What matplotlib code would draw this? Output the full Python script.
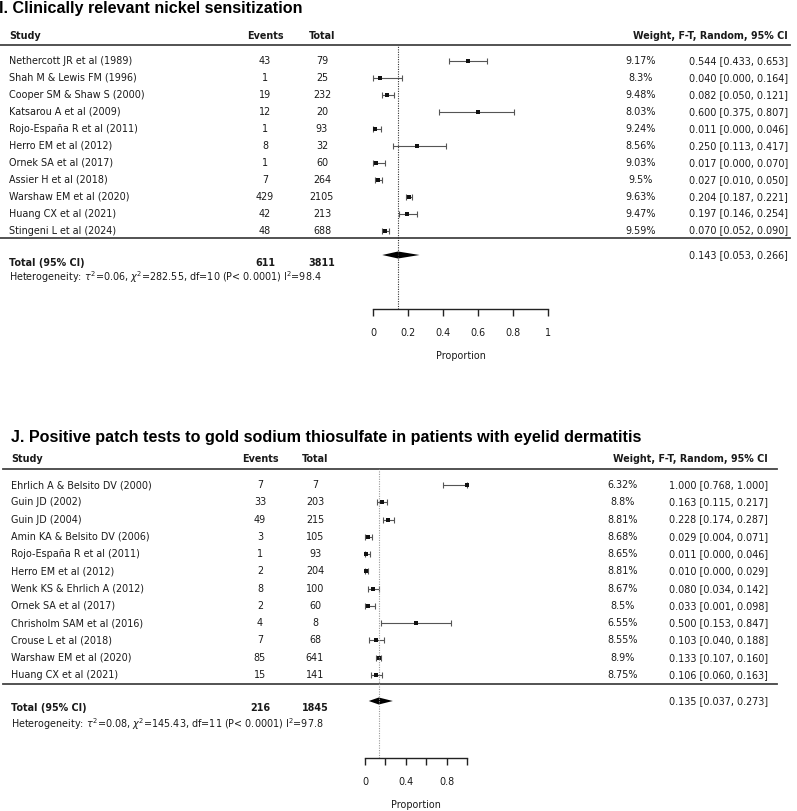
import matplotlib
matplotlib.use("Agg")
import matplotlib.pyplot as plt
from matplotlib.transforms import blended_transform_factory

# ---- panel I data ----
i_studies = ["Nethercott JR et al (1989)", "Shah M & Lewis FM (1996)", "Cooper SM & Shaw S (2000)",
             "Katsarou A et al (2009)", "Rojo-España R et al (2011)", "Herro EM et al (2012)",
             "Ornek SA et al (2017)", "Assier H et al (2018)", "Warshaw EM et al (2020)",
             "Huang CX et al (2021)", "Stingeni L et al (2024)"]
i_events = [43, 1, 19, 12, 1, 8, 1, 7, 429, 42, 48]
i_totals = [79, 25, 232, 20, 93, 32, 60, 264, 2105, 213, 688]
i_weights = ["9.17%", "8.3%", "9.48%", "8.03%", "9.24%", "8.56%", "9.03%", "9.5%", "9.63%", "9.47%", "9.59%"]
i_est = [0.544, 0.040, 0.082, 0.600, 0.011, 0.250, 0.017, 0.027, 0.204, 0.197, 0.070]
i_lo = [0.433, 0.000, 0.050, 0.375, 0.000, 0.113, 0.000, 0.010, 0.187, 0.146, 0.052]
i_hi = [0.653, 0.164, 0.121, 0.807, 0.046, 0.417, 0.070, 0.050, 0.221, 0.254, 0.090]
i_summary = (0.143, 0.053, 0.266)
i_total_events, i_total_n = 611, 3811
i_het = r"Heterogeneity: $\tau^2$=0.06, $\chi^2$=282.55, df=10 (P< 0.0001) I$^2$=98.4"

# ---- panel J data ----
j_studies = ["Ehrlich A & Belsito DV (2000)", "Guin JD (2002)", "Guin JD (2004)",
             "Amin KA & Belsito DV (2006)", "Rojo-España R et al (2011)", "Herro EM et al (2012)",
             "Wenk KS & Ehrlich A (2012)", "Ornek SA et al (2017)", "Chrisholm SAM et al (2016)",
             "Crouse L et al (2018)", "Warshaw EM et al (2020)", "Huang CX et al (2021)"]
j_events = [7, 33, 49, 3, 1, 2, 8, 2, 4, 7, 85, 15]
j_totals = [7, 203, 215, 105, 93, 204, 100, 60, 8, 68, 641, 141]
j_weights = ["6.32%", "8.8%", "8.81%", "8.68%", "8.65%", "8.81%", "8.67%", "8.5%", "6.55%", "8.55%", "8.9%", "8.75%"]
j_est = [1.000, 0.163, 0.228, 0.029, 0.011, 0.010, 0.080, 0.033, 0.500, 0.103, 0.133, 0.106]
j_lo = [0.768, 0.115, 0.174, 0.004, 0.000, 0.000, 0.034, 0.001, 0.153, 0.040, 0.107, 0.060]
j_hi = [1.000, 0.217, 0.287, 0.071, 0.046, 0.029, 0.142, 0.098, 0.847, 0.188, 0.160, 0.163]
j_summary = (0.135, 0.037, 0.273)
j_total_events, j_total_n = 216, 1845
j_het = r"Heterogeneity: $\tau^2$=0.08, $\chi^2$=145.43, df=11 (P< 0.0001) I$^2$=97.8"

W, H = 797, 811
fig = plt.figure(figsize=(W / 100, H / 100), dpi=100)
fig.patch.set_facecolor("white")

TXT = "#1a1a1a"
FS = 6.9


def forest(title, studies, events, totals, weights, est, lo, hi, summary, tot_ev, tot_n, het, g):
    # axes covers proportion 0..1, from header line down to the x axis line
    n = len(studies)
    step = g["step"]
    top_px, bot_px = g["line_top"], g["axis_y"]
    ax = fig.add_axes([g["x0"] / W, 1 - bot_px / H, (g["x1"] - g["x0"]) / W, (bot_px - top_px) / H])
    y_top = (g["row0"] - top_px) / step
    y_bot = -(bot_px - g["row0"]) / step
    ax.set_xlim(0, 1)
    ax.set_ylim(y_bot, y_top)

    def ry(px):
        return -(px - g["row0"]) / step

    rows = [-k for k in range(n)]
    tr = blended_transform_factory(fig.transFigure, ax.transData)
    fx = lambda px: px / W

    # title + header
    fig.text(fx(g["title_x"]), 1 - g["title_y"] / H, title, fontsize=11.65, fontweight="bold",
             family="Liberation Sans", va="center", ha="left", color="black")
    hy = ry(g["head_y"])
    ax.text(fx(g["study_x"]), hy, "Study", transform=tr, fontsize=FS, fontweight="bold", va="center", color=TXT)
    ax.text(fx(g["ev_x"]), hy, "Events", transform=tr, fontsize=FS, fontweight="bold", va="center", ha="center", color=TXT)
    ax.text(fx(g["tot_x"]), hy, "Total", transform=tr, fontsize=FS, fontweight="bold", va="center", ha="center", color=TXT)
    ax.text(fx(g["ci_x"]), hy, "Weight, F-T, Random, 95% CI", transform=tr, fontsize=FS, fontweight="bold",
            va="center", ha="right", color=TXT)

    # horizontal rules
    ax.plot([fx(g["rule_l"]), fx(g["rule_r"])], [y_top, y_top], transform=tr, color="#444444", lw=1.3, clip_on=False)
    by = ry(g["bottom_rule"])
    ax.plot([fx(g["rule_l"]), fx(g["rule_r"])], [by, by], transform=tr, color="#444444", lw=1.3, clip_on=False)

    # study rows
    for k in range(n):
        y = rows[k]
        ax.text(fx(g["study_x"]), y, studies[k], transform=tr, fontsize=FS, va="center", color=TXT)
        ax.text(fx(g["ev_x"]), y, str(events[k]), transform=tr, fontsize=FS, va="center", ha="center", color=TXT)
        ax.text(fx(g["tot_x"]), y, str(totals[k]), transform=tr, fontsize=FS, va="center", ha="center", color=TXT)
        ax.text(fx(g["w_x"]), y, weights[k], transform=tr, fontsize=FS, va="center", ha="center", color=TXT)
        ax.text(fx(g["ci_x"]), y, f"{est[k]:.3f} [{lo[k]:.3f}, {hi[k]:.3f}]", transform=tr,
                fontsize=FS, va="center", ha="right", color=TXT)
        ax.errorbar(est[k], y, xerr=[[est[k] - lo[k]], [hi[k] - est[k]]], fmt="none",
                    ecolor="#555555", elinewidth=0.8, capsize=2.4, capthick=0.8, clip_on=False)
        ax.plot(est[k], y, "s", ms=2.6, mew=0, color="#111111", clip_on=False)

    # pooled estimate
    m, l, h = summary
    dy = ry(g["diamond_y"])
    half = g["diamond_h"] / step / 2
    ax.fill([l, m, h, m], [dy, dy + half, dy, dy - half], color="black", lw=0)
    ax.text(fx(g["ci_x"]), dy, f"{m:.3f} [{l:.3f}, {h:.3f}]", transform=tr, fontsize=FS, va="center",
            ha="right", color=TXT)
    ty = ry(g["total_y"])
    ax.text(fx(g["study_x"]), ty, "Total (95% CI)", transform=tr, fontsize=FS, fontweight="bold", va="center", color=TXT)
    ax.text(fx(g["ev_x"]), ty, str(tot_ev), transform=tr, fontsize=FS, fontweight="bold", va="center", ha="center", color=TXT)
    ax.text(fx(g["tot_x"]), ty, str(tot_n), transform=tr, fontsize=FS, fontweight="bold", va="center", ha="center", color=TXT)
    ax.text(fx(g["study_x"]), ry(g["het_y"]), het, transform=tr, fontsize=FS, va="center", color=TXT)

    # reference line at pooled estimate
    ax.axvline(m, color=g["vcol"], ls=(0, (1, 1.2)), lw=0.8)

    # x axis
    for s in ["top", "right", "left"]:
        ax.spines[s].set_visible(False)
    ax.spines["bottom"].set_color("#222222")
    ax.spines["bottom"].set_linewidth(1.0)
    ax.set_yticks([])
    ax.set_xticks(g["ticks"])
    ax.set_xticklabels(g["ticklabels"])
    ax.tick_params(axis="x", direction="out", length=5, width=1.0, color="#222222",
                   pad=9, labelsize=FS, labelcolor=TXT)
    ax.text(0.5, -(g["xlabel_y"] - bot_px) / (bot_px - top_px), "Proportion", transform=ax.transAxes,
            fontsize=FS, ha="center", va="center", color=TXT)
    ax.patch.set_alpha(0)
    return ax


geom_i = dict(x0=373, x1=548, line_top=45, axis_y=309, row0=61, step=16.95,
              title_x=-1, title_y=8, head_y=36, study_x=9, ev_x=265, tot_x=322, w_x=641, ci_x=788,
              rule_l=0, rule_r=790, bottom_rule=238, diamond_y=255, diamond_h=7, total_y=263, het_y=277,
              xlabel_y=356, vcol="#333333",
              ticks=[0, 0.2, 0.4, 0.6, 0.8, 1], ticklabels=["0", "0.2", "0.4", "0.6", "0.8", "1"])
geom_j = dict(x0=365, x1=467, line_top=469, axis_y=758, row0=485, step=17.27,
              title_x=11, title_y=437, head_y=459, study_x=11, ev_x=260, tot_x=315, w_x=623, ci_x=768,
              rule_l=3, rule_r=777, bottom_rule=684, diamond_y=701, diamond_h=7, total_y=708, het_y=724,
              xlabel_y=805, vcol="#999999",
              ticks=[0, 0.2, 0.4, 0.6, 0.8, 1], ticklabels=["0", "", "0.4", "", "0.8", ""])

forest("I. Clinically relevant nickel sensitization", i_studies, i_events, i_totals, i_weights,
       i_est, i_lo, i_hi, i_summary, i_total_events, i_total_n, i_het, geom_i)
forest("J. Positive patch tests to gold sodium thiosulfate in patients with eyelid dermatitis",
       j_studies, j_events, j_totals, j_weights, j_est, j_lo, j_hi, j_summary,
       j_total_events, j_total_n, j_het, geom_j)

fig.savefig("out.png", dpi=100, facecolor="white")
